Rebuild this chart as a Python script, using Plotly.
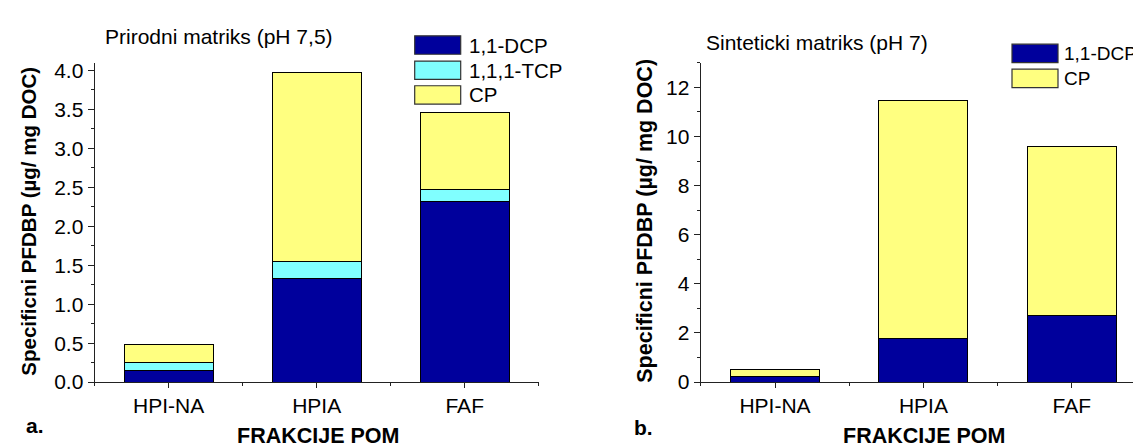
import plotly.graph_objects as go

categories = ["HPI-NA", "HPIA", "FAF"]
left_dcp = [0.145, 1.335, 2.32]
left_tcp = [0.108, 0.214, 0.155]
left_cp = [0.235, 2.42, 0.98]
right_dcp = [0.21, 1.78, 2.71]
right_cp = [0.30, 9.70, 6.89]

series_names = ["1,1-DCP", "1,1,1-TCP", "CP"]
C_DCP = "#00009C"
C_TCP = "#80FFFF"
C_CP = "#FFFF80"
W, H = 1141, 446
FONT = "Liberation Sans, Arial, sans-serif"
xpos = list(range(len(categories)))

fig = go.Figure()
line = dict(color="#000000", width=1)
for vals, name, col in [(left_dcp, series_names[0], C_DCP), (left_tcp, series_names[1], C_TCP), (left_cp, series_names[2], C_CP)]:
    fig.add_trace(go.Bar(x=xpos, y=vals, name=name, marker=dict(color=col, line=line),
                         width=0.6, xaxis="x", yaxis="y", showlegend=False))
for vals, name, col in [(right_dcp, series_names[0], C_DCP), (right_cp, series_names[2], C_CP)]:
    fig.add_trace(go.Bar(x=xpos, y=vals, name=name, marker=dict(color=col, line=line),
                         width=0.6, xaxis="x2", yaxis="y2", showlegend=False))

def px(x):
    return x / W

def py(y):
    return 1 - y / H

ydom = [py(383), py(52.5)]
axcommon = dict(showline=True, linecolor="#222222", linewidth=1.3, showgrid=False, zeroline=False,
                ticks="outside", ticklen=6, tickcolor="#222222", tickwidth=1.2,
                tickfont=dict(family=FONT, size=21, color="#000"))
xcommon = dict(axcommon, range=[-0.5, 2.5], tickvals=xpos, ticktext=categories, ticklen=5,
               tickfont=dict(family=FONT, size=21, color="#000"),
               minor=dict(tickvals=[-0.5, 0.5, 1.5, 2.5], ticks="outside", ticklen=3, tickcolor="#222222"))

fig.update_layout(
    width=W, height=H, margin=dict(l=0, r=0, t=0, b=0),
    paper_bgcolor="white", plot_bgcolor="white", barmode="stack", bargap=0.4,
    font=dict(family=FONT, size=20, color="#000"),
    xaxis=dict(xcommon, domain=[px(86.7), px(530.7)], anchor="y"),
    yaxis=dict(axcommon, domain=ydom, range=[0, 4.1], dtick=0.5, tickformat=".1f", anchor="x",
               minor=dict(dtick=0.25, ticks="outside", ticklen=3, tickcolor="#222222")),
    xaxis2=dict(xcommon, domain=[px(692.8), px(1138)], anchor="y2"),
    yaxis2=dict(axcommon, domain=ydom, range=[0, 13], dtick=2, anchor="x2",
                minor=dict(dtick=1, ticks="outside", ticklen=3, tickcolor="#222222")),
)

ann = []
def text(x, y, s, size=20, bold=False, xanchor="left", angle=0):
    ann.append(dict(x=px(x), y=py(y), xref="paper", yref="paper", text=("<b>%s</b>" % s) if bold else s,
                    showarrow=False, xanchor=xanchor, yanchor="middle", textangle=angle,
                    font=dict(family=FONT, size=size, color="#000")))

# titles
text(95, 25, "Prirodni matriks (pH 7,5)", size=21)
text(696, 32, "Sinteticki matriks (pH 7)", size=21)
# axis titles
text(21, 217, "Specificni PFDBP (µg/ mg DOC)", size=20.5, bold=True, xanchor="center", angle=-90)
text(637, 216, "Specificni PFDBP (µg/ mg DOC)", size=21.5, bold=True, xanchor="center", angle=-90)
text(310, 439, "FRAKCIJE POM", size=21.5, bold=True, xanchor="center")
text(916, 439, "FRAKCIJE POM", size=21.5, bold=True, xanchor="center")
text(16, 428, "a.", size=21, bold=True)
text(624, 430, "b.", size=21, bold=True)

# legends
shapes = []
def legend_item(x0, yc, color, label, size=20.5, gap=52):
    shapes.append(dict(type="rect", xref="paper", yref="paper", x0=px(x0), x1=px(x0 + 46),
                       y0=py(yc + 9.5), y1=py(yc - 9.5), fillcolor=color,
                       line=dict(color="#333333", width=1.2)))
    text(x0 + gap, yc, label, size=size)

legend_item(406.7, 34.2, C_DCP, series_names[0])
legend_item(406.7, 60.3, C_TCP, series_names[1])
legend_item(406.7, 85.8, C_CP, series_names[2])
legend_item(1004, 42.8, C_DCP, series_names[0], size=19, gap=50)
legend_item(1004, 68.7, C_CP, series_names[2], size=19, gap=50)

fig.update_layout(annotations=ann, shapes=shapes)
fig.write_html("out.html")
